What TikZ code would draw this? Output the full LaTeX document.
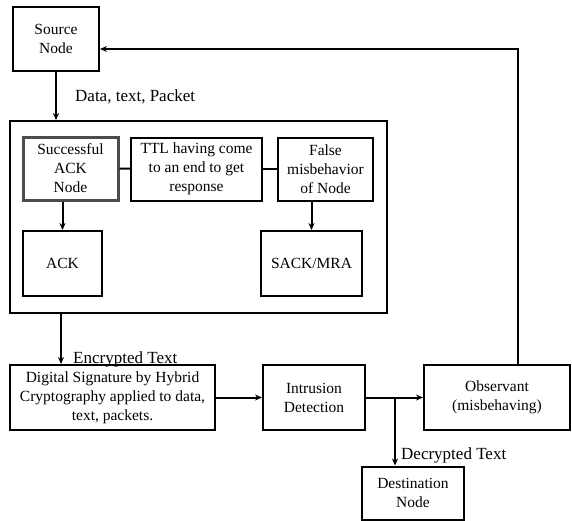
\documentclass[tikz,border=0pt]{standalone}
\usepackage{fontspec}
\setmainfont{Liberation Serif}
\usetikzlibrary{arrows.meta,positioning,calc}

\begin{document}
\begin{tikzpicture}[x=1pt,y=-1pt,
  box/.style={rectangle, draw, line width=2pt, inner sep=2pt,
              font=\fontsize{15.5}{19}\selectfont, align=center},
  arr/.style={-{Stealth[length=7pt,width=6pt]}, line width=2pt},
  lbl/.style={font=\fontsize{17}{19}\selectfont, anchor=west, inner sep=0pt},
]
  \useasboundingbox (0,0) rectangle (572,520);
  % outer part
  \node[box, minimum width=86, minimum height=64] (src) at (56,39) {Source\\Node};
  \node[box, minimum width=377, minimum height=192] (grp) at (198.5,217) {};
  % inside the group
  \node[box, line width=3pt, draw=black!70, minimum width=95, minimum height=63] (sack) at (70.5,168.5) {Successful\\ACK\\Node};
  \node[box, minimum width=131, minimum height=63] (ttl) at (196.5,169) {TTL having come\\to an end to get\\response};
  \node[box, minimum width=95, minimum height=63] (fmis) at (325.5,169) {False\\misbehavior\\of Node};
  \node[box, minimum width=79, minimum height=65] (ack) at (62.5,263.5) {ACK};
  \node[box, minimum width=101, minimum height=65] (sackmra) at (311.5,263.5) {SACK/MRA};
  % lower row
  \node[box, minimum width=205, minimum height=65] (dsig) at (112.5,397.5) {Digital Signature by Hybrid\\Cryptography applied to data,\\text, packets.};
  \node[box, minimum width=102, minimum height=65] (ids) at (314,397.5) {Intrusion\\Detection};
  \node[box, minimum width=146, minimum height=65] (obs) at (497,397.5) {Observant\\(misbehaving)};
  \node[box, minimum width=102, minimum height=53] (dest) at (413,493) {Destination\\Node};

  \coordinate (br) at (395,398);
  \coordinate (up) at (518,49);

  \draw[arr] (src.south) -- (src.south |- grp.north);
  \node[lbl] (l1) at (75,97) {Data, text, Packet};
  \draw[line width=2pt] (sack) -- (ttl);
  \draw[line width=2pt] (ttl) -- (fmis);
  \draw[arr] (sack.south -| ack) -- (ack.north);
  \draw[arr] (fmis.south -| sackmra) -- (sackmra.north);
  \draw[arr] (grp.south -| 61,0) -- (dsig.north -| 61,0);
  \node[lbl] (l2) at (73,359) {Encrypted Text};
  \draw[arr] (dsig) -- (ids);
  \draw[arr] (ids) -- (obs);
  \draw[arr] (br) -- (br |- dest.north);
  \node[lbl] (l3) at (401,455) {Decrypted Text};
  \draw[arr] (obs.north -| up) -- (up) -- (src.east |- up);
\end{tikzpicture}
\end{document}
